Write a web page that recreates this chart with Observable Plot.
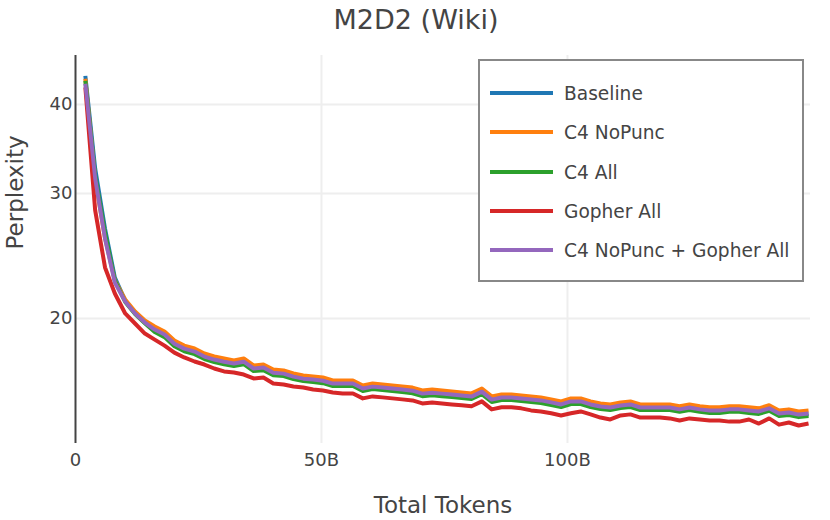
<!DOCTYPE html>
<html><head><meta charset="utf-8">
<script src="https://cdn.jsdelivr.net/npm/d3@7"></script>
<script src="https://cdn.jsdelivr.net/npm/@observablehq/plot@0.6"></script>
<style>
body{margin:0;background:#fff;}
#wrap{position:relative;width:830px;height:520px;font-family:"DejaVu Sans",sans-serif;}
#legend{position:absolute;left:478px;top:59px;}
</style></head><body><div id="wrap"></div>
<script>
// Total tokens (billions)
const tokens = [2.0,4.0,6.0,8.0,10.1,12.1,14.1,16.1,18.1,20.1,
  22.1,24.2,26.2,28.2,30.2,32.2,34.2,36.2,38.2,40.2,
  42.3,44.3,46.3,48.3,50.3,52.3,54.3,56.4,58.4,60.4,
  62.4,64.4,66.4,68.5,70.5,72.5,74.5,76.5,78.5,80.5,
  82.6,84.6,86.6,88.6,90.6,92.6,94.6,96.7,98.7,100.7,
  102.7,104.7,106.7,108.7,110.8,112.8,114.8,116.8,118.8,120.8,
  122.8,124.8,126.9,128.9,130.9,132.9,134.9,136.9,138.9,141.0,
  143.0,145.0,147.0,149.0];

const seriesNames = ["Baseline","C4 NoPunc","C4 All","Gopher All","C4 NoPunc + Gopher All"];
const seriesColors = ["#1f77b4","#ff7f0e","#2ca02c","#d62728","#9467bd"];

const baseline = [43.9,32.5,26.77,22.84,21.2,20.4,19.8,19.26,18.95,18.40,
  18.10,17.93,17.65,17.48,17.36,17.25,17.36,16.97,17.02,16.75,
  16.70,16.54,16.43,16.38,16.32,16.16,16.16,16.16,15.91,16.01,
  15.96,15.91,15.86,15.80,15.65,15.70,15.65,15.60,15.55,15.50,
  15.75,15.35,15.45,15.45,15.40,15.35,15.30,15.21,15.11,15.25,
  15.25,15.11,15.01,14.96,15.06,15.11,14.96,14.96,14.96,14.96,
  14.87,14.96,14.87,14.82,14.82,14.87,14.87,14.82,14.77,14.92,
  14.67,14.72,14.62,14.67];

const c4NoPunc = [43.5,31.4,25.95,22.62,21.27,20.46,19.87,19.49,19.18,18.62,
  18.32,18.15,17.86,17.69,17.57,17.46,17.57,17.18,17.23,16.95,
  16.90,16.74,16.63,16.58,16.52,16.36,16.36,16.36,16.10,16.20,
  16.15,16.10,16.05,15.99,15.84,15.89,15.84,15.79,15.74,15.69,
  15.94,15.54,15.64,15.64,15.59,15.54,15.49,15.39,15.29,15.44,
  15.44,15.29,15.19,15.14,15.24,15.29,15.14,15.14,15.14,15.14,
  15.05,15.14,15.05,15.00,15.00,15.05,15.05,15.00,14.95,15.10,
  14.85,14.90,14.80,14.85];

const c4All = [43.2,31.78,26.43,22.62,21.1,20.3,19.7,19.14,18.83,18.28,
  17.99,17.82,17.54,17.37,17.25,17.15,17.25,16.87,16.92,16.64,
  16.60,16.44,16.33,16.28,16.22,16.07,16.07,16.07,15.81,15.91,
  15.86,15.81,15.76,15.70,15.55,15.60,15.55,15.51,15.46,15.41,
  15.65,15.26,15.36,15.36,15.31,15.26,15.21,15.11,15.01,15.16,
  15.16,15.01,14.92,14.87,14.97,15.01,14.87,14.87,14.87,14.87,
  14.78,14.87,14.78,14.73,14.73,14.78,14.78,14.73,14.68,14.83,
  14.58,14.63,14.53,14.58];

const gopherAll = [42.3,28.4,23.6,21.69,20.33,19.68,19.05,18.68,18.32,17.91,
  17.63,17.40,17.23,17.01,16.85,16.79,16.68,16.47,16.52,16.20,
  16.15,16.05,15.99,15.89,15.84,15.74,15.69,15.69,15.44,15.54,
  15.49,15.44,15.39,15.34,15.19,15.24,15.19,15.14,15.10,15.05,
  15.29,14.90,15.00,15.00,14.95,14.85,14.80,14.71,14.61,14.71,
  14.80,14.66,14.51,14.42,14.61,14.66,14.51,14.51,14.51,14.47,
  14.37,14.47,14.42,14.37,14.37,14.32,14.32,14.42,14.23,14.47,
  14.18,14.28,14.14,14.23];

const c4NoPuncGopher = [42.8,31.5,25.92,22.47,21.13,20.33,19.74,19.30,18.99,18.43,
  18.14,17.97,17.68,17.51,17.39,17.29,17.39,17.01,17.06,16.78,
  16.73,16.57,16.46,16.41,16.35,16.20,16.20,16.20,15.94,16.04,
  15.99,15.94,15.89,15.83,15.68,15.73,15.68,15.63,15.58,15.53,
  15.78,15.38,15.48,15.48,15.43,15.38,15.34,15.24,15.14,15.29,
  15.29,15.14,15.04,14.99,15.09,15.14,14.99,14.99,14.99,14.99,
  14.90,14.99,14.90,14.85,14.85,14.90,14.90,14.85,14.80,14.95,
  14.70,14.75,14.65,14.70];

const yTicks = [20, 30, 40];
const xTicks = [0, 50, 100];
const xTickLabels = ["0", "50B", "100B"];

const seriesValues = [baseline, c4NoPunc, c4All, gopherAll, c4NoPuncGopher];
const rows = seriesNames.flatMap((name, k) =>
  tokens.map((t, i) => ({series: name, tokens: t, ppl: seriesValues[k][i]})));

const plot = Plot.plot({
  width: 830, height: 520,
  marginLeft: 75, marginRight: 20, marginTop: 55, marginBottom: 77,
  style: {fontFamily: "DejaVu Sans", color: "#444", background: "#fff", overflow: "visible"},
  x: {domain: [0, 149.4]},
  y: {type: "log", domain: [13.34, 46.9]},
  color: {domain: seriesNames, range: seriesColors},
  marks: [
    Plot.gridX([50, 100], {stroke: "#eeeeee", strokeOpacity: 1, strokeWidth: 2}),
    Plot.gridY(yTicks, {stroke: "#eeeeee", strokeOpacity: 1, strokeWidth: 2}),
    Plot.axisX(xTicks, {tickSize: 0, tickPadding: 10, fontSize: 18, fill: "#444",
      tickFormat: d => xTickLabels[xTicks.indexOf(d)], label: null}),
    Plot.axisY(yTicks, {tickSize: 0, tickPadding: 3, fontSize: 18, fill: "#444",
      tickFormat: d => String(d), label: null}),
    Plot.ruleX([0], {stroke: "#444", strokeWidth: 2}),
    Plot.lineY(rows, {x: "tokens", y: "ppl", z: "series", stroke: "series",
      strokeWidth: 4, strokeLinejoin: "round", strokeLinecap: "butt"}),
    Plot.text(["M2D2 (Wiki)"], {frameAnchor: "top", lineAnchor: "middle", dx: -27, dy: -35, fontSize: 27, fill: "#444"}),
    Plot.text(["Total Tokens"], {frameAnchor: "bottom", lineAnchor: "middle", dy: 62, fontSize: 23, fill: "#444"}),
    Plot.text(["Perplexity"], {frameAnchor: "left", lineAnchor: "middle", dx: -60, rotate: -90, fontSize: 23, fill: "#444"})
  ]
});

const wrap = document.getElementById("wrap");
wrap.appendChild(plot);

const leg = d3.select(wrap).append("svg").attr("id", "legend")
  .attr("width", 326).attr("height", 223);
leg.append("rect").attr("x", 1).attr("y", 1).attr("width", 324).attr("height", 221)
  .attr("fill", "#fff").attr("stroke", "#888").attr("stroke-width", 2);
const rowY = [34, 73, 113, 152, 191];
seriesNames.forEach((name, k) => {
  leg.append("line").attr("x1", 12).attr("x2", 75).attr("y1", rowY[k]).attr("y2", rowY[k])
    .attr("stroke", seriesColors[k]).attr("stroke-width", 4);
  leg.append("text").attr("x", 86).attr("y", rowY[k]).attr("dy", "0.35em")
    .attr("font-family", "DejaVu Sans").attr("font-size", 18.6).attr("fill", "#444")
    .text(name);
});
</script>
</body></html>
